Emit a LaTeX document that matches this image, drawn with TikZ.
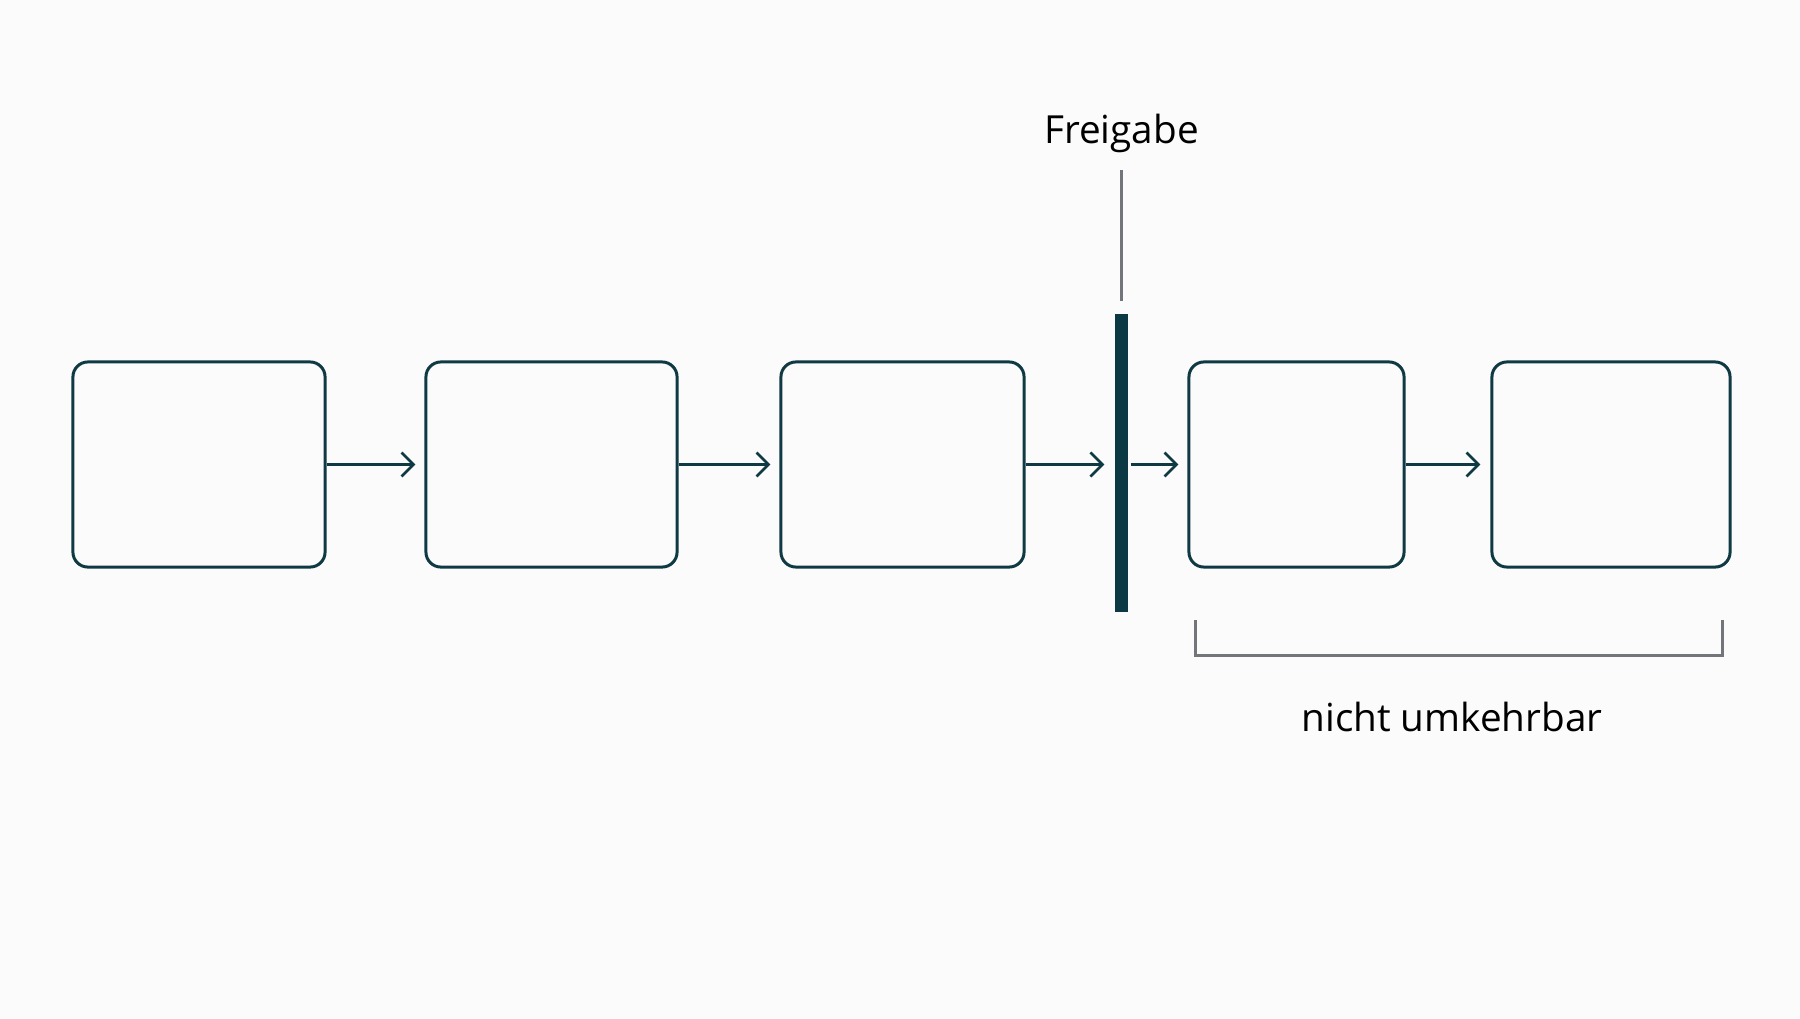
\documentclass[tikz,border=0pt]{standalone}
\usepackage{fontspec}
\setmainfont{Open Sans}
\usetikzlibrary{arrows.meta}
\definecolor{ink}{HTML}{0F3A44}
\definecolor{rail}{HTML}{0B3A45}
\definecolor{mute}{HTML}{727579}
\definecolor{paper}{HTML}{FBFBFB}
\begin{document}
\begin{tikzpicture}[x=0.01cm,y=-0.01cm,
  stage/.style={draw=ink,line width=0.85pt,rounded corners=0.15cm,inner sep=0pt},
  flow/.style={draw=ink,line width=0.75pt,-{Straight Barb[length=0.12cm,width=0.24cm,line width=0.75pt]}},
  note/.style={draw=mute,line width=0.6pt},
  brace/.style={draw=mute,line width=0.85pt},
  lbl/.style={font=\fontsize{11}{13}\selectfont,text=black,inner sep=0pt}]
  \fill[paper] (0,0) rectangle (1800,1018);
  \useasboundingbox (0,0) rectangle (1800,1018);

  % stages
  \node[stage,minimum width=2.52cm,minimum height=2.05cm] (b1) at (199,464.5) {};
  \node[stage,minimum width=2.51cm,minimum height=2.05cm] (b2) at (551.5,464.5) {};
  \node[stage,minimum width=2.43cm,minimum height=2.05cm] (b3) at (902.5,464.5) {};
  \node[stage,minimum width=2.15cm,minimum height=2.05cm] (b4) at (1296.5,464.5) {};
  \node[stage,minimum width=2.38cm,minimum height=2.05cm] (b5) at (1611,464.5) {};

  % release barrier
  \node[fill=rail,inner sep=0pt,minimum width=0.13cm,minimum height=2.98cm] (bar) at (1121.5,463) {};
  \node[lbl] (fg) at (1121.5,133) {Freigabe};
  \coordinate (ntop) at (1121.5,170);
  \coordinate (nbot) at (1121.5,301);
  \draw[note] (ntop) -- (nbot);

  % flow arrows
  \draw[flow,shorten >=0.09cm] (b1.east) -- (b2.west);
  \draw[flow,shorten >=0.09cm] (b2.east) -- (b3.west);
  \draw[flow,shorten >=0.1cm] (b3.east) -- (bar.west |- b3.east);
  \draw[flow,shorten <=0.02cm,shorten >=0.09cm] (bar.east |- b4.west) -- (b4.west);
  \draw[flow,shorten >=0.1cm] (b4.east) -- (b5.west);

  % irreversible range
  \coordinate (bl) at (1195,620);
  \coordinate (br) at (1722,620);
  \draw[brace] (bl) -- ++(0,35) -| (br);
  \node[lbl] (irr) at (1452,717) {nicht umkehrbar};
\end{tikzpicture}
\end{document}
